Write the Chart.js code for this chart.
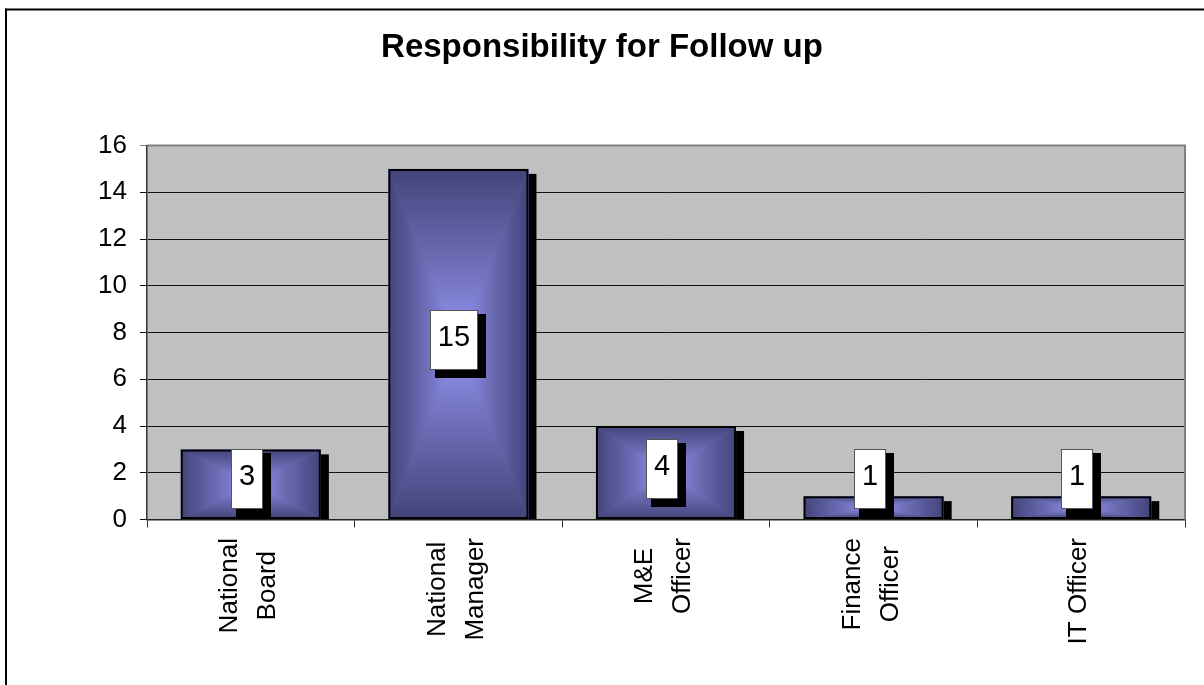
<!DOCTYPE html>
<html><head><meta charset="utf-8">
<script src="https://cdn.jsdelivr.net/npm/chart.js@4.4.1/dist/chart.umd.min.js"></script>
<style>html,body{margin:0;padding:0;background:#fff;overflow:hidden}#wrap{width:1204px;height:685px;position:relative}</style>
</head><body><div id="wrap"><canvas id="c" width="1204" height="685"></canvas></div>
<script>
const TITLE = 'Responsibility for Follow up';
const categories = [['National', 'Board'], ['National', 'Manager'], ['M&E', 'Officer'], ['Finance', 'Officer'], ['IT Officer']];
const values = [3, 15, 4, 1, 1];
const yTicks = [0, 2, 4, 6, 8, 10, 12, 14, 16];

const FONT = '"Liberation Sans", Arial, Helvetica, sans-serif';
const EDGE = '#43437a', MID = '#6a6ab2', CENTER = '#9696f6';

function rectGrad(ctx, l, t, r, b) {
  const cx = (l + r) / 2, cy = (t + b) / 2;
  ctx.fillStyle = MID;
  ctx.fillRect(l, t, r - l, b - t);
  const tri = (pts, x0, y0, x1, y1) => {
    const g = ctx.createLinearGradient(x0, y0, x1, y1);
    g.addColorStop(0, EDGE); g.addColorStop(0.5, MID); g.addColorStop(1, CENTER);
    ctx.beginPath(); ctx.moveTo(pts[0][0], pts[0][1]); ctx.lineTo(pts[1][0], pts[1][1]); ctx.lineTo(pts[2][0], pts[2][1]); ctx.closePath();
    ctx.fillStyle = g; ctx.fill();
  };
  tri([[l, t], [r, t], [cx, cy]], 0, t, 0, cy);
  tri([[l, b], [r, b], [cx, cy]], 0, b, 0, cy);
  tri([[l, t], [l, b], [cx, cy]], l, 0, cx, 0);
  tri([[r, t], [r, b], [cx, cy]], r, 0, cx, 0);
}

const decor = {
  id: 'decor',
  beforeDraw(chart) {
    const { ctx, chartArea: a } = chart;
    ctx.save();
    ctx.fillStyle = '#fff'; ctx.fillRect(0, 0, chart.width, chart.height);
    ctx.fillStyle = '#c0c0c0'; ctx.fillRect(a.left, a.top, a.right - a.left, a.bottom - a.top);
    ctx.restore();
  },
  beforeDatasetsDraw(chart) {
    const { ctx, chartArea: a } = chart;
    ctx.save();
    ctx.strokeStyle = '#808080'; ctx.lineWidth = 2;
    ctx.beginPath(); ctx.moveTo(a.left, a.top); ctx.lineTo(a.right, a.top); ctx.lineTo(a.right, a.bottom); ctx.stroke();
    const meta = chart.getDatasetMeta(0);
    meta.data.forEach(bar => {
      const l = bar.x - bar.width / 2, r = bar.x + bar.width / 2;
      ctx.fillStyle = '#000';
      ctx.fillRect(l + 8, bar.y + 5, r - l, bar.base - bar.y - 5);
    });
    meta.data.forEach(bar => {
      rectGrad(ctx, bar.x - bar.width / 2, bar.y, bar.x + bar.width / 2, bar.base);
    });
    ctx.restore();
  },
  afterDatasetsDraw(chart) {
    const ctx = chart.ctx;
    const meta = chart.getDatasetMeta(0);
    const ys = chart.scales.y;
    ctx.save();
    ctx.font = '29px ' + FONT;
    meta.data.forEach((bar, i) => {
      const txt = String(values[i]);
      const tw = ctx.measureText(txt).width;
      const w = Math.round(tw + 16), h = 60;
      let cy = (bar.y + bar.base) / 2 - 4;
      const lim = ys.getPixelForValue(0) - 10.5;
      if (cy + h / 2 > lim) cy = lim - h / 2;
      const x = Math.round(bar.x - 4 - w / 2), y = Math.round(cy - h / 2);
      ctx.fillStyle = '#000'; ctx.fillRect(x + 5, y + 4, w + 3, h + 4);
      ctx.fillStyle = '#fff'; ctx.fillRect(x, y, w, h);
      ctx.strokeStyle = '#555'; ctx.lineWidth = 1; ctx.strokeRect(x + 0.5, y + 0.5, w - 1, h - 1);
      ctx.fillStyle = '#000'; ctx.textAlign = 'center'; ctx.textBaseline = 'middle';
      ctx.fillText(txt, x + w / 2, y + h / 2 - 2);
    });
    // category labels, rotated, lines centred
    const xs = chart.scales.x;
    ctx.font = '26px ' + FONT;
    ctx.textAlign = 'center'; ctx.textBaseline = 'middle';
    categories.forEach((lines, i) => {
      const cx = xs.getPixelForValue(i);
      const maxLen = Math.max(...lines.map(s => ctx.measureText(s).width));
      const topY = 538;
      lines.forEach((s, j) => {
        const off = (j - (lines.length - 1) / 2) * 38;
        ctx.save();
        ctx.translate(cx - 2 + off, topY + maxLen / 2);
        ctx.rotate(-Math.PI / 2);
        ctx.fillText(s, 0, 0);
        ctx.restore();
      });
    });
    ctx.restore();
  },
  afterDraw(chart) {
    const ctx = chart.ctx;
    ctx.save();
    ctx.fillStyle = '#000';
    ctx.fillRect(5, 8.5, chart.width, 2);
    ctx.fillRect(5, 8.5, 2, chart.height);
    ctx.restore();
  }
};

new Chart(document.getElementById('c'), {
  type: 'bar',
  data: {
    labels: categories,
    datasets: [{
      data: values,
      backgroundColor: 'rgba(0,0,0,0)',
      borderColor: '#000',
      borderWidth: 2,
      borderSkipped: false,
      categoryPercentage: 1,
      barPercentage: 0.675
    }]
  },
  options: {
    responsive: false,
    animation: false,
    events: [],
    layout: { padding: { left: 0, right: 0, top: 0, bottom: 0 } },
    plugins: {
      legend: { display: false },
      tooltip: { enabled: false },
      title: {
        display: true,
        text: TITLE,
        color: '#000',
        font: { family: FONT, size: 33, weight: 'bold', lineHeight: 1.2 },
        padding: { top: 28.5, bottom: 77.4 }
      }
    },
    scales: {
      x: {
        offset: true,
        grid: { drawOnChartArea: false, drawTicks: true, tickLength: 8, color: '#333', lineWidth: 1 },
        border: { color: '#222', width: 1.5 },
        ticks: { display: false },
        afterFit(s) { s.height = 165.5; }
      },
      y: {
        min: 0, max: 16,
        afterBuildTicks(s) { s.ticks = yTicks.map(v => ({ value: v })); },
        grid: {
          color: (c) => (c.tick && c.tick.value === 16) ? '#808080' : '#111',
          lineWidth: 1,
          tickLength: 7
        },
        border: { color: '#333', width: 1.5 },
        ticks: { color: '#000', font: { family: FONT, size: 26 }, padding: 13 },
        afterFit(s) { s.width = 147; }
      },
      yRight: {
        position: 'right',
        display: true,
        min: 0, max: 16,
        grid: { display: false, drawTicks: false },
        border: { display: false },
        ticks: { display: false },
        afterFit(s) { s.width = 19; }
      }
    }
  },
  plugins: [decor]
});
</script>
</body></html>
